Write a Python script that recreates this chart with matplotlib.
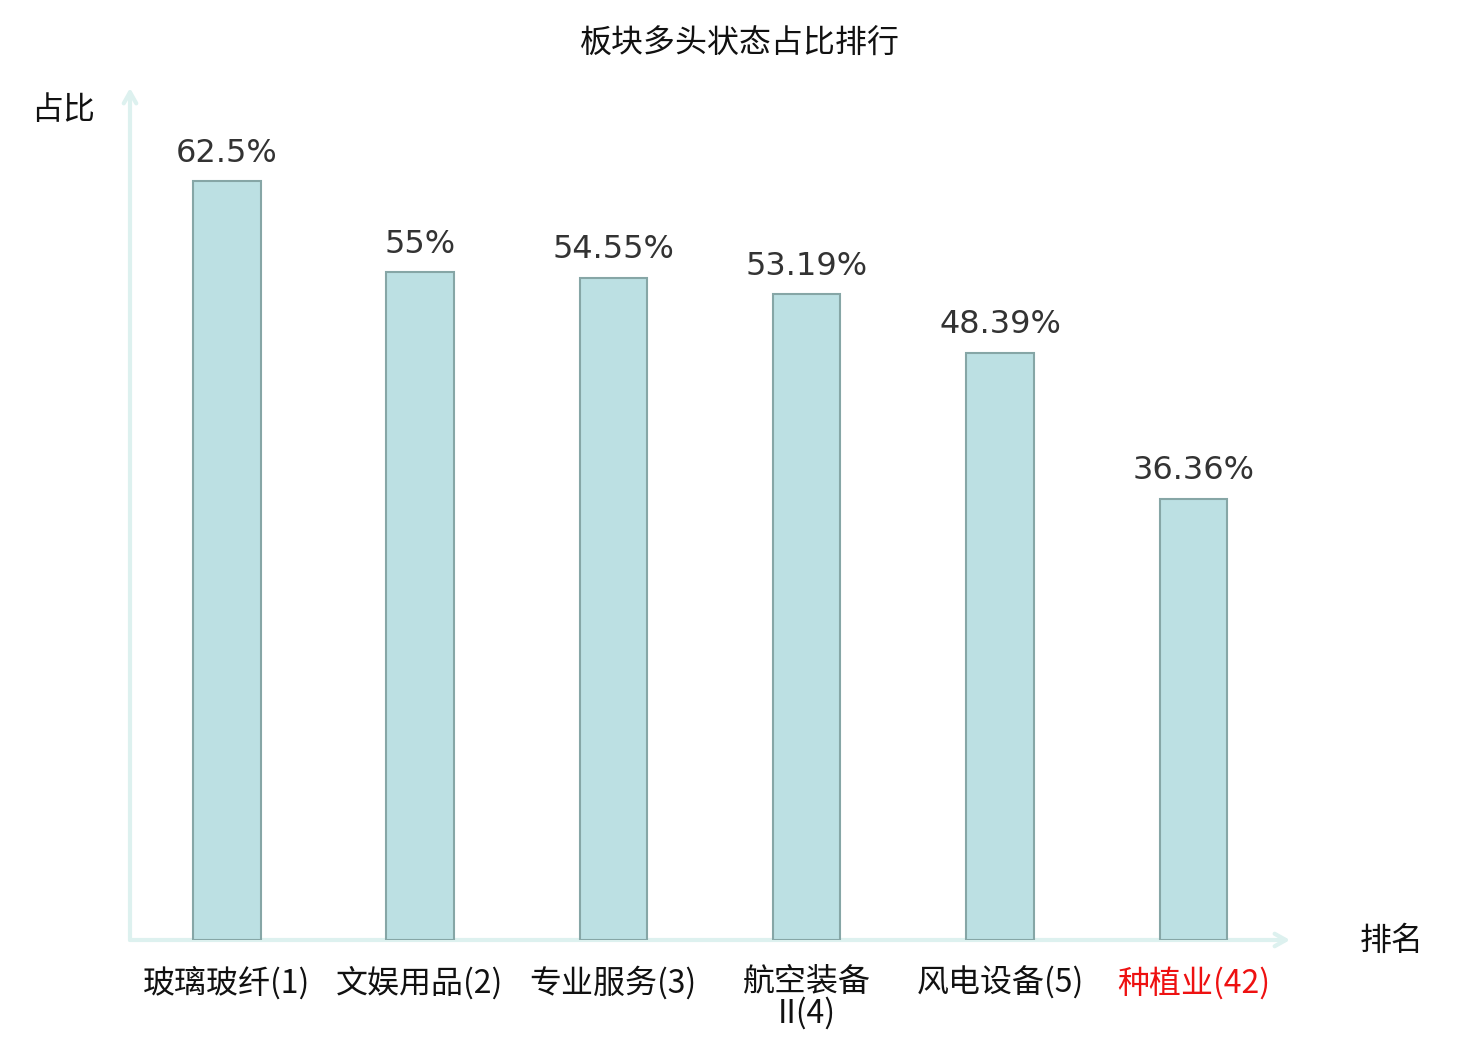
import matplotlib
matplotlib.use("Agg")
import matplotlib.pyplot as plt

plt.rcParams['font.family'] = ['Noto Sans CJK SC', 'DejaVu Sans']

# data
sectors = ["玻璃玻纤(1)", "文娱用品(2)", "专业服务(3)", "航空装备\nII(4)", "风电设备(5)", "种植业(42)"]
ratios = [62.5, 55, 54.55, 53.19, 48.39, 36.36]
value_labels = ["62.5%", "55%", "54.55%", "53.19%", "48.39%", "36.36%"]
highlight = [False, False, False, False, False, True]

axis_color = "#ddf1ef"
bar_color = "#bce0e3"
edge_color = "#86a6a6"

fig = plt.figure(figsize=(14.8, 10.4), dpi=100)
# axes placed so that the axis lines match the reference: x 130..1290, y 88..940 px
ax = fig.add_axes([130 / 1480, 100 / 1040, 1160 / 1480, 852 / 1040])

x = list(range(len(sectors)))
ax.bar(x, ratios, width=0.35, color=bar_color, edgecolor=edge_color, linewidth=1.5, zorder=3)

for xi, v, lab in zip(x, ratios, value_labels):
    ax.annotate(lab, (xi, v), xytext=(0, 9), textcoords="offset points",
                ha="center", va="bottom", fontsize=23, color="#333333",
                family="DejaVu Sans")

ax.set_xlim(-0.5, 5.5)
ax.set_ylim(0, 70.2)

for s in ax.spines.values():
    s.set_visible(False)
ax.set_yticks([])
ax.set_xticks(x)
ax.set_xticklabels(sectors, fontsize=23, linespacing=0.95)
ax.tick_params(axis="x", length=0, pad=19)
for lbl, hl in zip(ax.get_xticklabels(), highlight):
    lbl.set_color("#ee1111" if hl else "#111111")

# axis lines with open arrow heads
ax.annotate("", xy=(1.0, 0), xytext=(0, 0), xycoords="axes fraction",
            arrowprops=dict(arrowstyle="->,head_length=0.8,head_width=0.45",
                            color=axis_color, lw=3, shrinkA=0, shrinkB=0),
            annotation_clip=False, zorder=1)
ax.annotate("", xy=(0, 1.0), xytext=(0, 0), xycoords="axes fraction",
            arrowprops=dict(arrowstyle="->,head_length=0.8,head_width=0.45",
                            color=axis_color, lw=3, shrinkA=0, shrinkB=0),
            annotation_clip=False, zorder=1)

fig.text(63 / 1480, 1 - 110 / 1040, "占比", fontsize=23, ha="center", va="center", color="#111111")
fig.text(1392 / 1480, 1 - 941 / 1040, "排名", fontsize=23, ha="center", va="center", color="#111111")
fig.text(740 / 1480, 1 - 44 / 1040, "板块多头状态占比排行", fontsize=23, ha="center", va="center",
         color="#111111")

fig.savefig("out.png", dpi=100)
